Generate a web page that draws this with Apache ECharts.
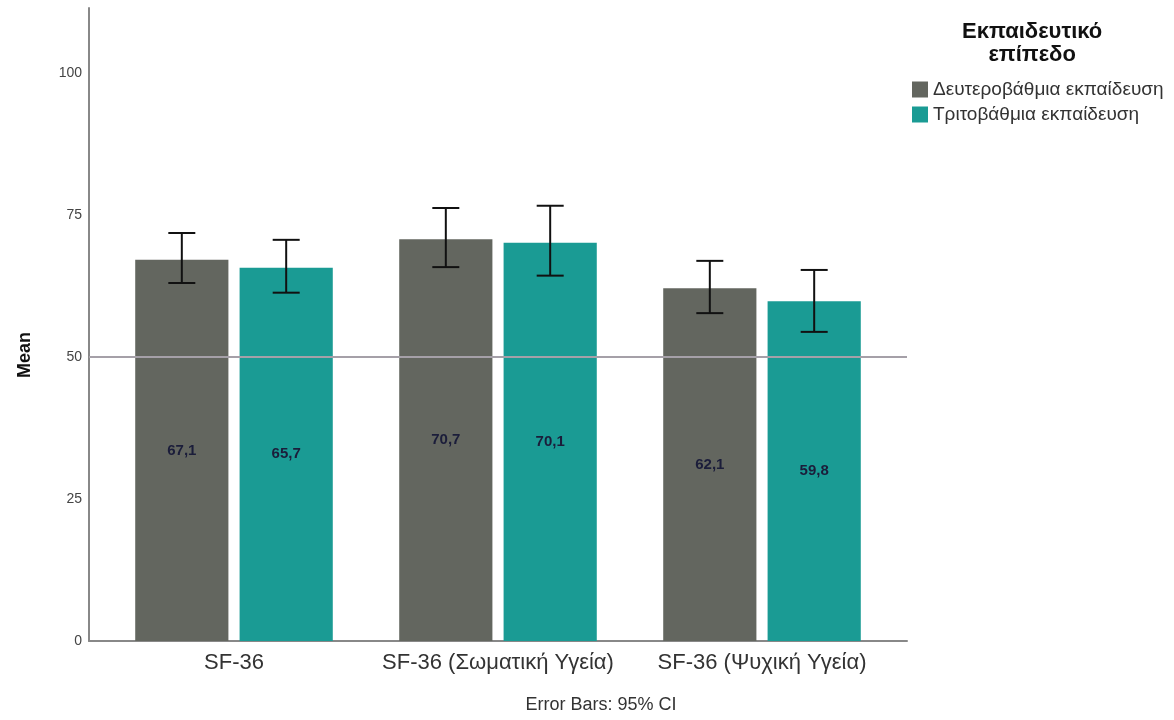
<!DOCTYPE html>
<html>
<head>
<meta charset="utf-8">
<script src="https://cdn.jsdelivr.net/npm/echarts@6/dist/echarts.min.js"></script>
<style>
  html, body { margin: 0; padding: 0; background: #ffffff; }
  #chart { width: 1174px; height: 720px; }
</style>
</head>
<body>
<div id="chart"></div>
<script>
// Categories and group names
var categories = ['SF-36', 'SF-36 (Σωματική Υγεία)', 'SF-36 (Ψυχική Υγεία)'];
var groupNames = ['Δευτεροβάθμια εκπαίδευση', 'Τριτοβάθμια εκπαίδευση'];

// Means per group
var meansSecondary = [67.1, 70.7, 62.1];
var meansTertiary = [65.7, 70.1, 59.8];

// 95% CI bounds per group
var ciLowSecondary = [63.0, 65.8, 57.7];
var ciHighSecondary = [71.8, 76.2, 66.9];
var ciLowTertiary = [61.3, 64.3, 54.4];
var ciHighTertiary = [70.6, 76.6, 65.3];

// Axis ticks and reference value
var yTicks = [0, 25, 50, 75, 100];
var referenceValue = 50;

var FONT = '"Liberation Sans", Arial, sans-serif';
var Y_MAX = 111.4;
var BAR_WIDTH_FRAC = 0.353;
var BAR_GAP_FRAC = 0.12;

function fmt(v) { return v.toFixed(1).replace('.', ','); }

function errorBarSeries(low, high, groupIndex) {
  var data = low.map(function (l, i) { return [i, l, high[i]]; });
  return {
    type: 'custom',
    xAxisIndex: 0,
    yAxisIndex: 0,
    z: 10,
    silent: true,
    data: data,
    renderItem: function (params, api) {
      var band = api.size([1, 0])[0];
      var bw = band * BAR_WIDTH_FRAC;
      var off = (bw + bw * BAR_GAP_FRAC) / 2 * (groupIndex === 0 ? -1 : 1);
      var lo = api.coord([api.value(0), api.value(1)]);
      var hi = api.coord([api.value(0), api.value(2)]);
      var x = lo[0] + off;
      var cap = 13.5;
      var st = { stroke: '#111111', lineWidth: 2 };
      return {
        type: 'group',
        children: [
          { type: 'line', shape: { x1: x, y1: lo[1], x2: x, y2: hi[1] }, style: st },
          { type: 'line', shape: { x1: x - cap, y1: hi[1], x2: x + cap, y2: hi[1] }, style: st },
          { type: 'line', shape: { x1: x - cap, y1: lo[1], x2: x + cap, y2: lo[1] }, style: st }
        ]
      };
    }
  };
}

var barLabel = {
  show: true,
  position: 'inside',
  fontFamily: FONT,
  fontSize: 15,
  fontWeight: 'bold',
  color: '#1b1d3a',
  formatter: function (p) { return fmt(p.value); }
};

var chart = echarts.init(document.getElementById('chart'), null, { renderer: 'canvas' });

chart.setOption({
  backgroundColor: '#ffffff',
  animation: false,
  textStyle: { fontFamily: FONT },
  grid: [
    { left: 102, right: 280, top: 8, bottom: 79 },
    { left: 89, right: 267, top: 8, bottom: 79 }
  ],
  xAxis: [
    {
      type: 'category',
      gridIndex: 0,
      data: categories,
      axisLine: { show: false },
      axisTick: { show: false },
      axisLabel: {
        interval: 0, hideOverlap: false,
        fontFamily: FONT, fontSize: 22, color: '#333333', margin: 11
      }
    },
    {
      type: 'value',
      gridIndex: 1,
      min: 0,
      max: 1,
      axisLine: { show: true, onZero: false, lineStyle: { color: '#888888', width: 2 } },
      axisTick: { show: false },
      axisLabel: { show: false },
      splitLine: { show: false }
    }
  ],
  yAxis: [
    {
      type: 'value',
      gridIndex: 0,
      min: 0,
      max: Y_MAX,
      interval: 25,
      offset: 13,
      axisLine: { show: true, lineStyle: { color: '#888888', width: 2 } },
      axisTick: { show: false },
      splitLine: { show: false },
      axisLabel: {
        fontFamily: FONT, fontSize: 14, color: '#444444', margin: 7,
        formatter: function (v) { return yTicks.indexOf(v) >= 0 ? String(v) : ''; }
      }
    },
    {
      type: 'value',
      gridIndex: 1,
      min: 0,
      max: Y_MAX,
      show: false
    }
  ],
  legend: {
    orient: 'vertical',
    left: 907,
    top: 75,
    itemWidth: 16,
    itemHeight: 16,
    itemGap: 6,
    icon: 'rect',
    data: groupNames,
    textStyle: { fontFamily: FONT, fontSize: 19, color: '#333333' }
  },
  graphic: [
    {
      type: 'text',
      left: 962,
      top: 20,
      style: {
        text: 'Εκπαιδευτικό\nεπίπεδο',
        fontFamily: FONT,
        fontSize: 22,
        fontWeight: 'bold',
        fill: '#111111',
        textAlign: 'center',
        lineHeight: 23
      }
    },
    {
      type: 'text',
      x: 25,
      y: 355,
      rotation: Math.PI / 2,
      style: {
        text: 'Mean',
        fontFamily: FONT,
        fontSize: 18,
        fontWeight: 'bold',
        fill: '#111111',
        textAlign: 'center',
        textVerticalAlign: 'middle'
      }
    },
    {
      type: 'text',
      x: 601,
      y: 705,
      style: {
        text: 'Error Bars: 95% CI',
        fontFamily: FONT,
        fontSize: 18,
        fill: '#333333',
        textAlign: 'center',
        textVerticalAlign: 'middle'
      }
    }
  ],
  series: [
    {
      name: groupNames[0],
      type: 'bar',
      xAxisIndex: 0,
      yAxisIndex: 0,
      data: meansSecondary,
      barWidth: (BAR_WIDTH_FRAC * 100) + '%',
      barGap: (BAR_GAP_FRAC * 100) + '%',
      itemStyle: { color: '#63665f' },
      label: barLabel
    },
    {
      name: groupNames[1],
      type: 'bar',
      xAxisIndex: 0,
      yAxisIndex: 0,
      data: meansTertiary,
      barWidth: (BAR_WIDTH_FRAC * 100) + '%',
      barGap: (BAR_GAP_FRAC * 100) + '%',
      itemStyle: { color: '#1a9b94' },
      label: barLabel
    },
    errorBarSeries(ciLowSecondary, ciHighSecondary, 0),
    errorBarSeries(ciLowTertiary, ciHighTertiary, 1),
    {
      // reference line across the full plot width
      type: 'line',
      xAxisIndex: 1,
      yAxisIndex: 1,
      z: 20,
      silent: true,
      symbol: 'none',
      data: [[0, referenceValue], [1, referenceValue]],
      lineStyle: { color: '#a5a0a8', width: 2 }
    }
  ]
});
</script>
</body>
</html>
